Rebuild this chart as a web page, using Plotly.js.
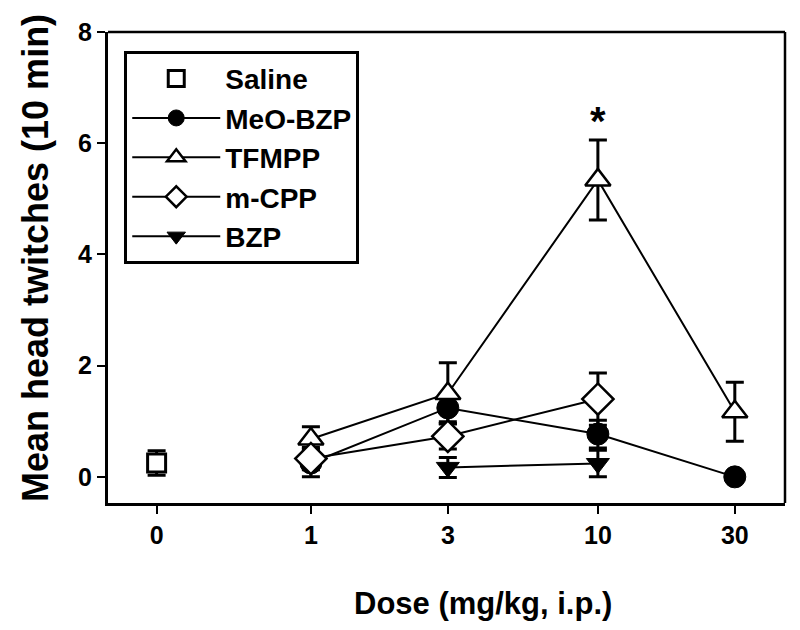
<!DOCTYPE html>
<html>
<head>
<meta charset="utf-8">
<script src="https://cdn.plot.ly/plotly-3.0.1.min.js"></script>
<style>html,body{margin:0;padding:0;background:#fff;}</style>
</head>
<body>
<div id="chart" style="width:800px;height:630px;"></div>
<script>
// Dose positions (log axis); saline ("0") placed left of 1
const doseTicks = [0.29, 1, 3, 10, 30];
const doseTickText = ["0", "1", "3", "10", "30"];
const yTicks = [0, 2, 4, 6, 8];

const salineX = [0.29];
const salineY = [0.25];
const salineErr = [0.22];

const meoX = [1, 3, 10, 30];
const meoY = [0.25, 1.24, 0.77, 0.0];
const meoErr = [0.25, 0.25, 0.25, 0.0];

const tfmppX = [1, 3, 10, 30];
const tfmppY = [0.68, 1.5, 5.34, 1.17];
const tfmppErr = [0.22, 0.55, 0.72, 0.53];

const mcppX = [1, 3, 10];
const mcppY = [0.33, 0.73, 1.4];
const mcppErr = [0.2, 0.23, 0.47];

const bzpX = [3, 10];
const bzpY = [0.17, 0.24];
const bzpErr = [0.18, 0.24];

const FONT = "Liberation Sans, Arial, sans-serif";
const eb = (arr) => ({type: 'data', array: arr, visible: true, color: '#000', thickness: 3, width: 9});

const traces = [
  {name: 'Saline', x: salineX, y: salineY, mode: 'markers', error_y: eb(salineErr),
   marker: {symbol: 'square', size: 18, color: '#fff', line: {color: '#000', width: 3}}},
  {name: 'MeO-BZP', x: meoX, y: meoY, mode: 'lines+markers', error_y: eb(meoErr),
   line: {color: '#000', width: 2},
   marker: {symbol: 'circle', size: 22, color: '#000', line: {color: '#000', width: 1}}},
  {name: 'TFMPP', x: tfmppX, y: tfmppY, mode: 'lines+markers', error_y: eb(tfmppErr),
   line: {color: '#000', width: 2},
   marker: {symbol: 'triangle-up', size: 22, color: '#fff', line: {color: '#000', width: 2.5}}},
  {name: 'm-CPP', x: mcppX, y: mcppY, mode: 'lines+markers', error_y: eb(mcppErr),
   line: {color: '#000', width: 2},
   marker: {symbol: 'diamond', size: 24, color: '#fff', line: {color: '#000', width: 2.5}}},
  {name: 'BZP', x: bzpX, y: bzpY, mode: 'lines+markers', error_y: eb(bzpErr),
   line: {color: '#000', width: 2},
   marker: {symbol: 'triangle-down', size: 20, color: '#000', line: {color: '#000', width: 1}}}
];

const layout = {
  width: 800, height: 630,
  margin: {l: 108, r: 15, t: 32, b: 127},
  paper_bgcolor: '#fff', plot_bgcolor: '#fff',
  font: {family: FONT, color: '#000'},
  showlegend: true,
  legend: {
    x: 0.024, y: 0.96, xanchor: 'left', yanchor: 'top',
    bgcolor: '#fff', bordercolor: '#000', borderwidth: 3,
    font: {family: FONT, size: 28, weight: 'bold', color: '#000'},
    itemwidth: 88, tracegroupgap: 0
  },
  xaxis: {
    type: 'log', range: [-0.707, 1.652],
    tickmode: 'array', tickvals: doseTicks, ticktext: doseTickText,
    ticks: 'outside', ticklen: 8, tickwidth: 2, tickcolor: '#000',
    showline: true, linewidth: 3, linecolor: '#000',
    showgrid: false, zeroline: false,
    tickfont: {family: FONT, size: 25, weight: 'bold', color: '#000'}
  },
  yaxis: {
    range: [-0.47, 8],
    tickmode: 'array', tickvals: yTicks,
    ticks: 'outside', ticklen: 8, tickwidth: 2, tickcolor: '#000',
    showline: true, linewidth: 3, linecolor: '#000',
    showgrid: false, zeroline: false,
    tickfont: {family: FONT, size: 25, weight: 'bold', color: '#000'}
  },
  shapes: [
    {type: 'line', xref: 'paper', yref: 'paper', x0: 0, x1: 1, y0: 1, y1: 1, line: {color: '#000', width: 2.5}},
    {type: 'line', xref: 'paper', yref: 'paper', x0: 1, x1: 1, y0: 0, y1: 1, line: {color: '#000', width: 2.5}}
  ],
  annotations: [
    {x: 1, y: 6.4, xref: 'x', yref: 'y', text: '*', showarrow: false,
     font: {family: FONT, size: 40, weight: 'bold'}},
    {x: (483 - 108) / 677, y: (503 - 603) / 471, xref: 'paper', yref: 'paper', yanchor: 'middle',
     text: 'Dose (mg/kg, i.p.)', showarrow: false,
     font: {family: FONT, size: 31, weight: 'bold'}},
    {x: (35 - 108) / 677, y: (503 - 258) / 471, xref: 'paper', yref: 'paper',
     xanchor: 'center', yanchor: 'middle', textangle: -90,
     text: 'Mean head twitches (10 min)', showarrow: false,
     font: {family: FONT, size: 36, weight: 'bold'}}
  ]
};

Plotly.newPlot('chart', traces, layout, {displayModeBar: false, staticPlot: true});
</script>
</body>
</html>
